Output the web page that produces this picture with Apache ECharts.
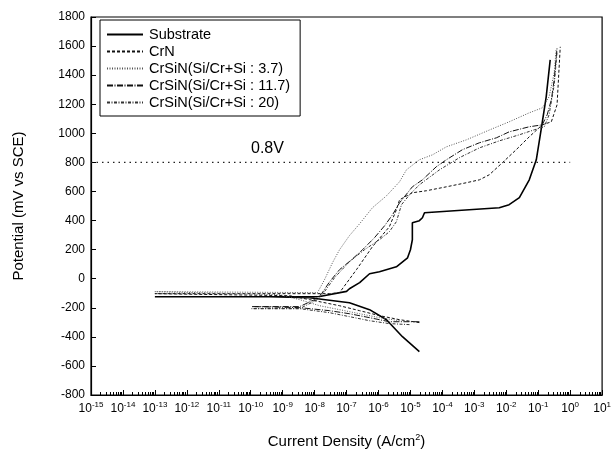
<!DOCTYPE html>
<html><head><meta charset="utf-8">
<script src="https://cdn.jsdelivr.net/npm/echarts@6/dist/echarts.min.js"></script>
<style>html,body{margin:0;padding:0;background:#fff}#c{width:614px;height:461px}</style>
</head><body><div id="c"></div>
<script>
// log10 of current density (A/cm2) and potential (mV vs SCE)
const substrateLogI = [-4.72,-5.25,-5.75,-6.28,-6.91,-8.16,-9.41,-13,-8.78,-7.84,-7.0,-6.91,-6.59,-6.28,-5.97,-5.44,-5.09,-5.0,-4.94,-4.94,-4.72,-4.625,-4.56,-3.16,-2.22,-1.91,-1.59,-1.28,-1.06,-0.91,-0.75,-0.625];
const substrateE    = [-502,-399,-282,-213,-165,-131,-124,-124,-124,-122,-87,-69,-27,34,48,82,144,199,268,385,399,419,454,474,488,509,557,680,818,1024,1251,1505];

const crnLogI = [-4.72,-5.34,-5.97,-6.59,-7.22,-8.16,-8.78,-13,-7.53,-7.22,-6.69,-6.19,-5.66,-5.44,-5.34,-4.94,-4.5,-3.875,-3.25,-2.84,-2.53,-2.125,-1.69,-1.28,-0.875,-0.59,-0.41,-0.31];
const crnE    = [-302,-282,-254,-220,-186,-144,-117,-103,-103,-96,62,220,357,474,543,591,605,632,660,680,715,797,887,976,1058,1079,1196,1595];

const s37LogI = [-5.34,-5.97,-6.59,-7.22,-7.84,-8.47,-9.09,-13,-7.91,-7.69,-7.44,-7.22,-6.91,-6.59,-6.19,-5.75,-5.34,-5.125,-4.72,-4.31,-3.875,-3.25,-2.44,-1.91,-1.28,-0.875,-0.66,-0.5,-0.44];
const s37E    = [-289,-268,-241,-213,-186,-144,-110,-89,-96,-7,110,199,296,378,488,570,667,749,818,852,907,955,1031,1079,1141,1175,1251,1416,1574];

const s117LogI = [-4.72,-5.66,-6.28,-6.91,-7.53,-8.47,-9.97,-8.47,-8.0,-7.78,-7.53,-7.22,-6.84,-6.5,-6.125,-5.81,-5.56,-5.34,-4.94,-4.625,-4.19,-3.875,-3.375,-2.84,-2.31,-1.91,-1.28,-0.875,-0.72,-0.59,-0.5,-0.41];
const s117E    = [-296,-296,-268,-241,-220,-199,-192,-192,-144,-103,-21,62,131,199,282,364,440,522,632,680,770,818,887,935,969,1010,1045,1058,1127,1230,1368,1588];

const s20LogI = [-5.03,-5.66,-6.28,-6.91,-7.53,-8.47,-9.97,-8.47,-7.91,-7.69,-7.375,-6.91,-6.44,-5.97,-5.66,-5.44,-5.28,-5.03,-4.72,-4.09,-3.47,-2.84,-2.22,-1.59,-1.125,-0.81,-0.66,-0.5,-0.41];
const s20E    = [-316,-309,-289,-261,-234,-206,-206,-206,-144,-89,7,117,199,268,323,392,509,577,646,749,832,900,948,990,1024,1045,1127,1333,1560];

const refLineLogI = [-15, 0];
const refLineE = [800, 800];

const seriesNames = ['Substrate','CrN','CrSiN(Si/Cr+Si : 3.7)','CrSiN(Si/Cr+Si : 11.7)','CrSiN(Si/Cr+Si : 20)'];

function pairs(li, e){ return li.map((v,i)=>[Math.pow(10,v), e[i]]); }

const chart = echarts.init(document.getElementById('c'), null, {renderer:'canvas'});
const FONT = 'Liberation Sans, Arial, sans-serif';
function mk(name, li, e, color, width, type){
  return {name:name,type:'line',data:pairs(li,e),symbol:'none',color:color,
    itemStyle:{color:color},lineStyle:{color:color,width:width,type:type}};
}
const option = {
  animation:false,
  textStyle:{fontFamily:FONT},
  grid:{left:91,right:11,top:17,bottom:66,show:true,borderColor:'#000',borderWidth:1.2},
  legend:{
    data:seriesNames, orient:'vertical', left:100, top:20,
    padding:[7,10,6,6], itemGap:2, itemWidth:36, itemHeight:12,
    borderColor:'#000', borderWidth:1, backgroundColor:'#fff',
    itemStyle:{opacity:0},
    textStyle:{fontFamily:FONT,fontSize:14.5,lineHeight:14.5,color:'#000',padding:[0,0,0,1]}
  },
  xAxis:{
    type:'log', logBase:10, min:1e-15, max:10, interval:1,
    name:'Current Density (A/cm{sup|2})', nameLocation:'middle', nameGap:38,
    nameTextStyle:{fontFamily:FONT,fontSize:15,color:'#000',rich:{sup:{fontSize:9,padding:[0,0,8,0]}}},
    axisLine:{onZero:false,lineStyle:{color:'#000',width:1.2}},
    axisTick:{inside:true,length:5,lineStyle:{color:'#000'}},
    minorTick:{show:true,splitNumber:9,length:3,lineStyle:{color:'#000'}},
    splitLine:{show:false},
    axisLabel:{color:'#000',margin:6,fontSize:12,fontFamily:FONT,
      formatter:function(v){return '10{sup|'+Math.round(Math.log10(v))+'}';},
      rich:{sup:{fontSize:8,padding:[0,0,7,0]}}}
  },
  yAxis:{
    type:'value', min:-800, max:1800, interval:200,
    name:'Potential (mV vs SCE)', nameLocation:'middle', nameGap:65,
    nameTextStyle:{fontFamily:FONT,fontSize:15,color:'#000'},
    axisLine:{show:true,onZero:false,lineStyle:{color:'#000',width:1.2}},
    axisTick:{inside:true,length:5,lineStyle:{color:'#000'}},
    splitLine:{show:false},
    axisLabel:{color:'#000',margin:6,fontSize:12,fontFamily:FONT,formatter:function(v){return String(v);}}
  },
  graphic:[{type:'text',left:251,top:141,style:{text:'0.8V',font:'16px '+FONT,fill:'#000'}}],
  series:[
    {name:'0.8V',type:'line',data:pairs(refLineLogI,refLineE),symbol:'none',silent:true,color:'#222',
      lineStyle:{color:'#222',width:1.2,type:[1.5,4]}},
    mk(seriesNames[0], substrateLogI, substrateE, '#000', 1.6, 'solid'),
    mk(seriesNames[1], crnLogI, crnE, '#111', 1, [3,2]),
    mk(seriesNames[2], s37LogI, s37E, '#555', 1, [1,1.5]),
    mk(seriesNames[3], s117LogI, s117E, '#111', 1, [6,1.5,1,1.5]),
    mk(seriesNames[4], s20LogI, s20E, '#333', 1, [3,1.5,1,1.5])
  ]
};
chart.setOption(option);
</script></body></html>
